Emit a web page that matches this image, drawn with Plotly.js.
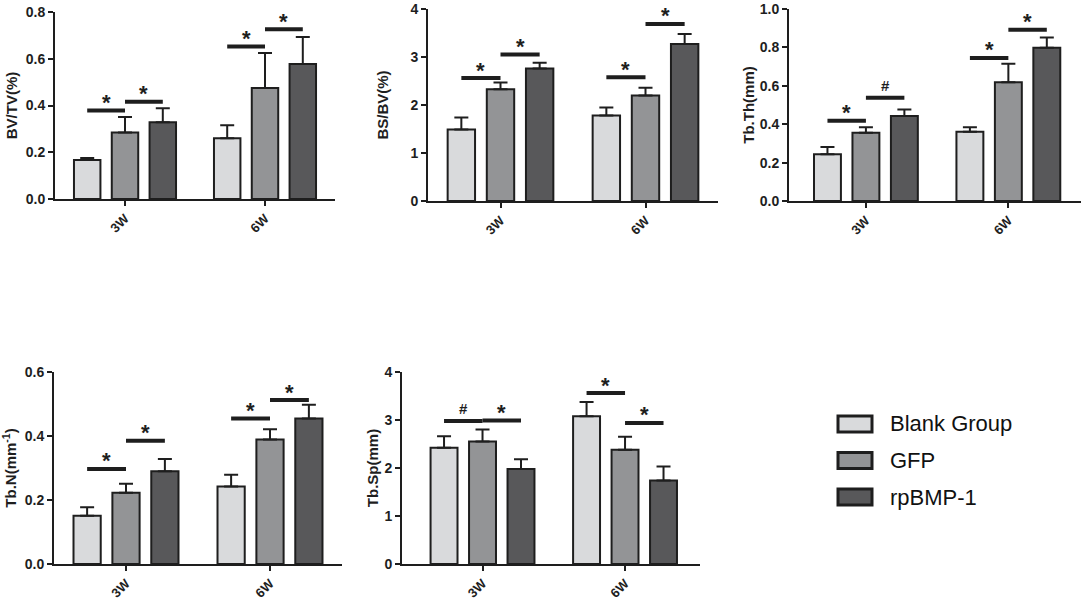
<!DOCTYPE html>
<html>
<head>
<meta charset="utf-8">
<script src="https://cdn.plot.ly/plotly-3.0.1.min.js"></script>
<style>
  html, body { margin: 0; padding: 0; background: #fff; }
  #chart { width: 1084px; height: 602px; }
</style>
</head>
<body>
<div id="chart"></div>
<script>
const groups = ["3W", "6W"];
const series = ["Blank Group", "GFP", "rpBMP-1"];

// means / upper error per series: [3W, 6W]
const bvtvMean = [[0.167, 0.26], [0.285, 0.475], [0.328, 0.578]];
const bvtvErr = [[0.008, 0.055], [0.066, 0.15], [0.06, 0.115]];
const bsbvMean = [[1.49, 1.78], [2.33, 2.2], [2.76, 3.27]];
const bsbvErr = [[0.25, 0.17], [0.14, 0.16], [0.12, 0.21]];
const tbthMean = [[0.243, 0.361], [0.356, 0.618], [0.443, 0.798]];
const tbthErr = [[0.038, 0.023], [0.028, 0.097], [0.033, 0.053]];
const tbnMean = [[0.151, 0.242], [0.223, 0.389], [0.29, 0.455]];
const tbnErr = [[0.026, 0.037], [0.028, 0.032], [0.038, 0.043]];
const tbspMean = [[2.42, 3.08], [2.55, 2.38], [1.98, 1.74]];
const tbspErr = [[0.24, 0.295], [0.25, 0.27], [0.2, 0.29]];

// significance marks: [group, first bar of pair, line level, label]
const bvtvSig = [[0, 0, 0.379, "*"], [0, 1, 0.416, "*"], [1, 0, 0.652, "*"], [1, 1, 0.726, "*"]];
const bsbvSig = [[0, 0, 2.56, "*"], [0, 1, 3.05, "*"], [1, 0, 2.58, "*"], [1, 1, 3.69, "*"]];
const tbthSig = [[0, 0, 0.418, "*"], [0, 1, 0.538, "#"], [1, 0, 0.745, "*"], [1, 1, 0.892, "*"]];
const tbnSig = [[0, 0, 0.297, "*"], [0, 1, 0.385, "*"], [1, 0, 0.455, "*"], [1, 1, 0.5125, "*"]];
const tbspSig = [[0, 0, 2.98, "#"], [0, 1, 2.99, "*"], [1, 0, 3.56, "*"], [1, 1, 2.94, "*"]];

const fills = ["#d9dadc", "#939496", "#58585a"];
const ink = "#1e1e1e";
const W = 1084, H = 602;
const BARGAP = 0.19;
const pitch = (1 - BARGAP) / 3;
const px = x => x / W;
const py = y => 1 - y / H;
const font = "Arial, 'Liberation Sans', sans-serif";

const panels = [
  { mean: bvtvMean, err: bvtvErr, sig: bvtvSig, title: "BV/TV(%)", xd: [55, 335], yd: [12, 199], yr: [0, 0.8], dt: 0.2, fmt: ".1f", xr: [-0.5, 1.5], so: 4 },
  { mean: bsbvMean, err: bsbvErr, sig: bsbvSig, title: "BS/BV(%)", xd: [428, 718], yd: [9, 201], yr: [0, 4], dt: 1, fmt: "d", xr: [-0.5, 1.5], so: 18 },
  { mean: tbthMean, err: tbthErr, sig: tbthSig, title: "Tb.Th(mm)", xd: [789, 1081], yd: [9, 201], yr: [0, 1.0], dt: 0.2, fmt: ".1f", xr: [-0.54, 1.51], so: 1 },
  { mean: tbnMean, err: tbnErr, sig: tbnSig, title: "Tb.N(mm<sup>-1</sup>)", xd: [54, 342], yd: [372, 564], yr: [0, 0.6], dt: 0.2, fmt: ".1f", xr: [-0.5, 1.5], so: 4 },
  { mean: tbspMean, err: tbspErr, sig: tbspSig, title: "Tb.Sp(mm)", xd: [402, 700], yd: [372, 564], yr: [0, 4], dt: 1, fmt: "d", xr: [-0.565, 1.526], so: 2 }
];

const data = [];
const shapes = [];
const annotations = [];
const layout = {
  width: W, height: H,
  margin: { l: 0, r: 0, t: 0, b: 0 },
  paper_bgcolor: "#fff", plot_bgcolor: "#fff",
  barmode: "group", bargap: BARGAP, bargroupgap: 0.3,
  showlegend: false,
  font: { family: font, color: ink }
};

panels.forEach((p, k) => {
  const n = k === 0 ? "" : String(k + 1);
  series.forEach((name, s) => {
    data.push({
      type: "bar", name: name, x: groups, y: p.mean[s],
      xaxis: "x" + n, yaxis: "y" + n,
      marker: { color: fills[s], line: { color: ink, width: 2 } },
      error_y: { type: "data", symmetric: false, array: p.err[s], arrayminus: [0, 0], color: ink, thickness: 2, width: 7 },
      hoverinfo: "y+name"
    });
  });
  layout["xaxis" + n] = {
    domain: [px(p.xd[0]), px(p.xd[1])], anchor: "y" + n,
    type: "category", range: p.xr,
    showline: true, linecolor: ink, linewidth: 2,
    ticks: "outside", ticklen: 5, tickwidth: 2, tickcolor: ink,
    tickangle: -45, showgrid: false, zeroline: false, fixedrange: true,
    tickfont: { family: font, size: 13, weight: "bold", color: ink }
  };
  layout["yaxis" + n] = {
    domain: [py(p.yd[1]), py(p.yd[0])], anchor: "x" + n,
    range: p.yr, dtick: p.dt, tick0: 0, tickformat: p.fmt,
    showline: true, linecolor: ink, linewidth: 2,
    ticks: "outside", ticklen: 5, tickwidth: 2, tickcolor: ink,
    showgrid: false, zeroline: false, fixedrange: true,
    tickfont: { family: font, size: 14, weight: "bold", color: ink },
    title: { text: p.title, standoff: p.so, font: { family: font, size: 15, weight: "bold", color: ink } }
  };
  p.sig.forEach(([g, a, level, mark]) => {
    const x0 = g + (a - 1) * pitch;
    const x1 = x0 + pitch;
    shapes.push({
      type: "line", xref: "x" + n, yref: "y" + n,
      x0: x0, x1: x1, y0: level, y1: level,
      line: { color: ink, width: 4 }
    });
    const star = mark === "*";
    annotations.push({
      xref: "x" + n, yref: "y" + n, x: (x0 + x1) / 2, y: level,
      yanchor: "middle", showarrow: false, text: mark,
      yshift: star ? 8 : 12,
      font: { family: font, size: star ? 22 : 15, weight: "bold", color: ink }
    });
  });
});

// legend drawn as boxes + text to match the large swatches
series.forEach((name, s) => {
  const cy = 424 + s * 36.5;
  shapes.push({
    type: "rect", xref: "paper", yref: "paper",
    x0: px(838), x1: px(872), y0: py(cy + 8), y1: py(cy - 8),
    fillcolor: fills[s], line: { color: ink, width: 3 }
  });
  annotations.push({
    xref: "paper", yref: "paper", x: px(888), y: py(cy),
    xanchor: "left", yanchor: "middle", showarrow: false, text: name,
    font: { family: font, size: 22, color: "#111" }
  });
});

layout.shapes = shapes;
layout.annotations = annotations;

Plotly.newPlot("chart", data, layout, { displayModeBar: false, staticPlot: true });
</script>
</body>
</html>
